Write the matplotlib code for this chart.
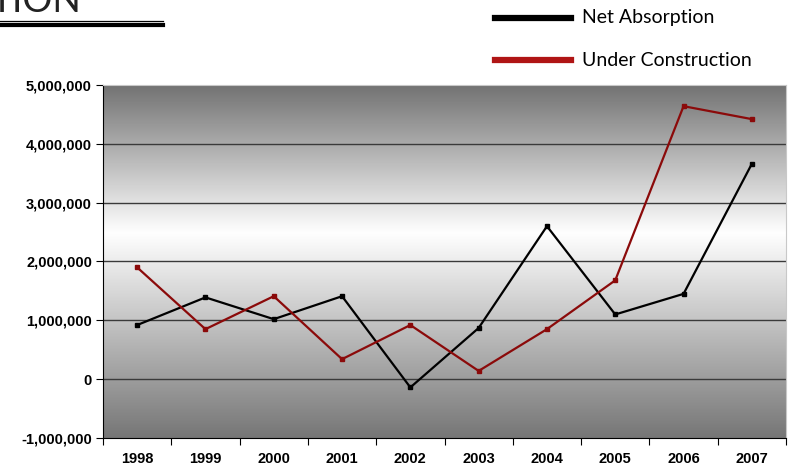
import numpy as np
import matplotlib.pyplot as plt
from matplotlib.colors import LinearSegmentedColormap
from matplotlib.lines import Line2D

years = ['1998', '1999', '2000', '2001', '2002', '2003', '2004', '2005', '2006', '2007']
net_absorption = [920000, 1390000, 1020000, 1410000, -140000, 870000, 2600000, 1100000, 1450000, 3660000]
under_construction = [1900000, 850000, 1410000, 340000, 920000, 140000, 850000, 1680000, 4640000, 4420000]
yticks = [-1000000, 0, 1000000, 2000000, 3000000, 4000000, 5000000]

fig = plt.figure(figsize=(7.91, 4.67), dpi=100)
ax = fig.add_axes([103 / 791, 1 - 438 / 467, (786 - 103) / 791, (438 - 85) / 467])

# grey-white-grey backdrop
cmap = LinearSegmentedColormap.from_list('bg', [(0.0, '#767676'), (0.58, '#ffffff'), (1.0, '#727272')])
grad = np.linspace(0, 1, 256).reshape(-1, 1)
ax.imshow(grad, cmap=cmap, aspect='auto', origin='lower',
          extent=[-0.5, len(years) - 0.5, -1000000, 5000000], zorder=0)

x = np.arange(len(years))
for v in yticks[1:-1]:
    ax.axhline(v, color='#3a3a3a', lw=1, zorder=1)
ax.plot(x, net_absorption, color='black', lw=1.6, marker='s', ms=3, zorder=3)
ax.plot(x, under_construction, color='#8b0a0a', lw=1.6, marker='s', ms=3, zorder=3)

ax.set_xlim(-0.5, len(years) - 0.5)
ax.set_ylim(-1000000, 5000000)
ax.set_yticks(yticks)
ax.set_yticklabels([f'{v:,}' for v in yticks], fontsize=10.5, fontweight='bold', family='Liberation Sans')
ax.set_xticks(np.arange(len(years) + 1) - 0.5, minor=False)
ax.set_xticklabels([])
ax.set_xticks(x, minor=True)
ax.set_xticklabels(years, minor=True, fontsize=10.5, fontweight='bold', family='Liberation Sans')
ax.tick_params(axis='x', which='minor', length=0, pad=10)
ax.tick_params(axis='x', which='major', length=5, direction='out')
ax.tick_params(axis='y', length=5, direction='out', pad=3)
for s in ['top', 'right']:
    ax.spines[s].set_color('#c8c8c8')
ax.spines['left'].set_color('black')
ax.spines['bottom'].set_color('black')

# header fragment and rules
fig.text(-0.012, 1 - 12 / 467, 'TION', fontsize=27, family='Lato', color='#222222', va='baseline')
fig.add_artist(Line2D([0, 163 / 791], [1 - 20.5 / 467] * 2, color='black', lw=0.9))
fig.add_artist(Line2D([0, 163 / 791], [1 - 25 / 467] * 2, color='black', lw=3))

# legend
fig.add_artist(Line2D([495 / 791, 571 / 791], [1 - 18 / 467] * 2, color='black', lw=4.5))
fig.text(582 / 791, 1 - 18 / 467, 'Net Absorption', fontsize=14, family='Lato', va='center')
fig.add_artist(Line2D([495 / 791, 571 / 791], [1 - 60 / 467] * 2, color='#b01515', lw=4.5))
fig.text(582 / 791, 1 - 60 / 467, 'Under Construction', fontsize=14, family='Lato', va='center')

fig.savefig('out.png', dpi=100)
